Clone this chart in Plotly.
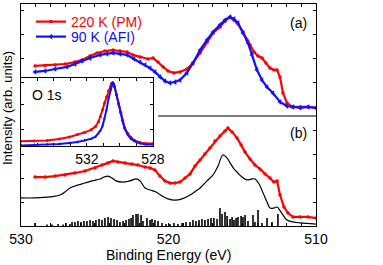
import plotly.graph_objects as go

# ---------------- data (binding energy in eV, intensity in arb. units) ----------------
# (a) 220 K (PM)
a_red_be = [529.05, 528.37, 527.69, 527.02, 526.34, 525.86, 525.32, 524.85, 524.31, 523.76,
            523.29, 522.81, 522.41, 521.93, 521.39, 521.05, 520.71, 520.37, 520.03, 519.63,
            519.22, 518.75, 518.34, 517.86, 517.39, 516.98, 516.51, 516.17, 515.83, 515.56,
            515.29, 514.95, 514.68, 514.47, 514.20, 513.93, 513.66, 513.39, 513.12, 512.85,
            512.64, 512.44, 512.24, 511.97, 511.63, 511.08, 510.54, 510.0]
a_red_int = [6.67, 6.69, 6.71, 6.75, 6.83, 6.92, 7.08, 7.21, 7.29, 7.33,
             7.29, 7.25, 7.13, 7.04, 6.96, 7.00, 6.83, 6.63, 6.46, 6.38,
             6.42, 6.54, 6.79, 7.21, 7.67, 8.04, 8.29, 8.54, 8.71, 8.58,
             8.42, 8.08, 7.75, 7.54, 7.25, 7.08, 7.00, 6.79, 6.58, 6.50,
             6.50, 6.21, 5.54, 5.13, 4.96, 4.96, 4.96, 4.92]
# (a) 90 K (AFI)
a_blue_be = [529.05, 528.37, 527.69, 526.88, 526.34, 525.86, 525.32, 524.64, 524.17, 523.76,
             523.29, 522.81, 522.34, 521.93, 521.59, 521.25, 520.92, 520.58, 520.24, 519.90,
             519.56, 519.22, 518.75, 518.34, 517.86, 517.39, 516.98, 516.51, 516.17, 515.83,
             515.56, 515.29, 514.95, 514.61, 514.34, 514.00, 513.66, 513.32, 512.92, 512.44,
             511.97, 511.56, 511.08, 510.54, 510.0]
a_blue_int = [6.42, 6.46, 6.54, 6.63, 6.75, 6.88, 7.00, 7.13, 7.17, 7.21,
              7.17, 7.13, 6.96, 6.83, 6.71, 6.58, 6.42, 6.21, 6.04, 5.96,
              6.00, 6.08, 6.38, 6.79, 7.33, 7.75, 8.08, 8.38, 8.58, 8.71,
              8.63, 8.46, 8.04, 7.63, 7.13, 6.50, 6.08, 5.79, 5.54, 5.17,
              5.00, 4.96, 4.92, 4.96, 4.92]
# (b) 220 K (PM)
b_red_be = [529.05, 528.37, 527.69, 527.02, 526.34, 525.66, 524.98, 524.51, 524.10, 523.76,
            523.42, 522.95, 522.47, 522.07, 521.59, 521.25, 520.92, 520.58, 520.24, 519.90,
            519.56, 519.22, 518.88, 518.54, 518.20, 517.86, 517.53, 517.19, 516.85, 516.51,
            516.17, 515.97, 515.69, 515.36, 515.08, 514.81, 514.47, 514.14, 513.80, 513.46,
            513.12, 512.85, 512.64, 512.44, 512.17, 511.90, 511.56, 511.08, 510.54, 510.0]
b_red_int = [2.04, 2.04, 2.08, 2.13, 2.21, 2.29, 2.42, 2.54, 2.63, 2.71,
             2.67, 2.63, 2.58, 2.54, 2.46, 2.42, 2.33, 2.08, 1.88, 1.79,
             1.79, 1.83, 2.00, 2.17, 2.50, 2.75, 3.00, 3.25, 3.54, 3.75,
             3.96, 4.08, 3.92, 3.67, 3.38, 3.08, 2.79, 2.54, 2.38, 2.17,
             2.00, 1.83, 1.88, 1.29, 0.79, 0.54, 0.38, 0.38, 0.38, 0.33]
# (b) calculation (black line)
calc_be = [530.0, 529.05, 528.03, 527.36, 527.02, 526.68, 526.14, 525.66, 525.19, 524.64,
           524.37, 524.10, 523.83, 523.56, 523.15, 522.61, 522.20, 521.93, 521.59, 521.25,
           520.85, 520.44, 520.03, 519.56, 519.08, 518.54, 518.14, 517.86, 517.39, 516.98,
           516.64, 516.31, 516.03, 515.83, 515.56, 515.36, 515.02, 514.68, 514.34, 514.14,
           513.86, 513.59, 513.32, 513.12, 512.85, 512.64, 512.37, 511.97, 511.56, 511.08, 510.0]
calc_int = [1.17, 1.17, 1.21, 1.29, 1.42, 1.58, 1.71, 1.79, 1.88, 1.96,
            2.04, 2.08, 2.00, 1.88, 1.83, 1.88, 1.96, 1.88, 1.58, 1.50,
            1.42, 1.25, 1.13, 1.08, 1.13, 1.29, 1.46, 1.58, 1.88, 2.13,
            2.50, 2.96, 2.83, 2.63, 2.38, 2.25, 2.04, 1.92, 1.96, 1.96,
            1.75, 1.38, 1.00, 0.75, 0.75, 0.79, 0.58, 0.25, 0.17, 0.13, 0.08]
# (b) stick spectrum
stick_be = [529.05, 528.24, 527.90, 527.49, 527.15, 526.95, 526.68, 526.54, 526.34, 526.14,
            525.93, 525.73, 525.53, 525.32, 525.12, 524.92, 524.71, 524.51, 524.31, 524.10,
            523.90, 523.69, 523.49, 523.29, 523.08, 522.88, 522.68, 522.54, 522.41, 522.20,
            522.07, 521.86, 521.73, 521.46, 521.25, 521.12, 520.92, 520.71, 520.44, 520.17,
            519.90, 519.63, 519.36, 519.08, 518.81, 518.54, 518.34, 518.14, 517.93, 517.73,
            517.53, 517.32, 517.12, 516.92, 516.71, 516.51, 516.37, 516.17, 516.03, 515.83,
            515.69, 515.56, 515.42, 515.29, 515.08, 514.95, 514.81, 514.61, 514.27, 514.14,
            513.93, 513.66, 513.32, 512.98, 512.58]
stick_int = [0.13, 0.06, 0.06, 0.08, 0.06, 0.13, 0.08, 0.17, 0.17, 0.21,
             0.17, 0.21, 0.21, 0.25, 0.21, 0.25, 0.29, 0.25, 0.33, 0.38,
             0.33, 0.29, 0.25, 0.17, 0.21, 0.25, 0.29, 0.33, 0.46, 0.50,
             0.50, 0.46, 0.21, 0.33, 0.25, 0.29, 0.25, 0.21, 0.13, 0.08,
             0.08, 0.13, 0.08, 0.13, 0.17, 0.17, 0.25, 0.21, 0.25, 0.29,
             0.25, 0.29, 0.33, 0.33, 0.29, 0.75, 0.50, 0.58, 0.42, 0.29,
             0.38, 0.25, 0.33, 0.38, 0.42, 0.38, 0.46, 0.21, 0.46, 0.17,
             0.67, 0.13, 0.33, 0.17, 0.50]
# inset: O 1s
o1s_be = [536.0, 535.21, 534.41, 533.68, 533.07, 532.58, 532.15, 531.73, 531.48, 531.30,
          531.18, 531.05, 530.93, 530.81, 530.69, 530.56, 530.50, 530.44, 530.38, 530.32,
          530.20, 530.08, 529.95, 529.83, 529.71, 529.53, 529.34, 529.10, 528.79, 528.43, 528.0]
o1s_red = [0.06, 0.066, 0.074, 0.096, 0.125, 0.16, 0.19, 0.235, 0.28, 0.35,
           0.43, 0.53, 0.63, 0.72, 0.81, 0.88, 0.92, 0.93, 0.91, 0.87,
           0.75, 0.62, 0.49, 0.37, 0.26, 0.18, 0.12, 0.074, 0.044, 0.03, 0.03]
o1s_blue = [0.0, 0.007, 0.015, 0.022, 0.037, 0.05, 0.074, 0.10, 0.13, 0.18,
            0.22, 0.29, 0.40, 0.53, 0.69, 0.84, 0.90, 0.93, 0.91, 0.87,
            0.74, 0.60, 0.47, 0.35, 0.25, 0.16, 0.10, 0.06, 0.03, 0.015, 0.015]

main_xticks = list(range(510, 531))
main_xlabels = {510: "510", 520: "520", 530: "530"}
main_yticks = [1, 2, 3, 4, 6, 7, 8, 9]
inset_xticks = list(range(528, 537))
inset_xlabels = {528: "528", 532: "532"}
inset_yticks = [0.235, 0.6, 0.93]

RED = "#ff0000"
BLUE = "#1010ff"
FONT = "Liberation Sans, Arial, sans-serif"

fig = go.Figure()

# stick spectrum
sx, sy = [], []
for e, h in zip(stick_be, stick_int):
    sx += [e, e, None]
    sy += [0, h, None]
fig.add_trace(go.Scatter(x=sx, y=sy, mode="lines", line=dict(color="black", width=1.6),
                         showlegend=False, hoverinfo="skip"))
fig.add_trace(go.Scatter(x=calc_be, y=calc_int, mode="lines",
                         line=dict(color="black", width=1.2, shape="spline"), showlegend=False))
fig.add_trace(go.Scatter(x=b_red_be, y=b_red_int, mode="lines+markers",
                         line=dict(color=RED, width=2.2), marker=dict(color=RED, size=3.5, symbol="circle"),
                         showlegend=False))
fig.add_trace(go.Scatter(x=a_red_be, y=a_red_int, mode="lines+markers", legend="legend",
                         name='<span style="color:#ff0000">220 K (PM)</span>',
                         line=dict(color=RED, width=2.2), marker=dict(color=RED, size=3.5, symbol="circle")))
fig.add_trace(go.Scatter(x=a_blue_be, y=a_blue_int, mode="lines+markers", legend="legend2",
                         name='<span style="color:#1010ff">90 K (AFI)</span>',
                         line=dict(color=BLUE, width=2.2), marker=dict(color=BLUE, size=5, symbol="triangle-left")))

# inset
fig.add_trace(go.Scatter(x=o1s_be, y=o1s_red, mode="lines+markers", xaxis="x2", yaxis="y2",
                         line=dict(color=RED, width=2), marker=dict(color=RED, size=3),
                         showlegend=False))
fig.add_trace(go.Scatter(x=o1s_be, y=o1s_blue, mode="lines+markers", xaxis="x2", yaxis="y2",
                         line=dict(color=BLUE, width=2), marker=dict(color=BLUE, size=3, symbol="triangle-left"),
                         showlegend=False))

axis_common = dict(showline=True, linecolor="black", linewidth=1, mirror="allticks",
                   ticks="inside", ticklen=3, tickcolor="black", showgrid=False, zeroline=False)

legend_common = dict(xanchor="left", yanchor="top", bgcolor="rgba(0,0,0,0)",
                     font=dict(size=14), itemwidth=30, borderwidth=0)

fig.update_layout(
    width=383, height=265,
    margin=dict(l=21, r=67, t=4, b=39),
    paper_bgcolor="white", plot_bgcolor="white",
    font=dict(family=FONT, size=14, color="black"),
    xaxis=dict(range=[530, 510], tickmode="array", tickvals=main_xticks,
               ticktext=[main_xlabels.get(v, "") for v in main_xticks],
               tickfont=dict(size=14), **axis_common),
    yaxis=dict(range=[0, 9.25], tickmode="array", tickvals=main_yticks, showticklabels=False,
               **axis_common),
    xaxis2=dict(domain=[0.0, 0.447], anchor="y2", range=[536, 528], tickmode="array",
                tickvals=inset_xticks, ticktext=[inset_xlabels.get(v, "") for v in inset_xticks],
                tickfont=dict(size=14), **axis_common),
    yaxis2=dict(domain=[0.36, 0.667], anchor="x2", range=[-0.01, 1.0], tickmode="array",
                tickvals=inset_yticks, showticklabels=False, **axis_common),
    legend=dict(x=(31 - 21) / 295, y=(226 - 6) / 222, **legend_common),
    legend2=dict(x=(31 - 21) / 295, y=(226 - 21) / 222, **legend_common),
    showlegend=True,
)

# separator between panels
fig.add_shape(type="line", xref="x", yref="y", x0=520.71, x1=510, y0=4.583, y1=4.583,
              line=dict(color="black", width=1))

ann = dict(xref="paper", yref="paper", showarrow=False, xanchor="center", yanchor="middle")
fig.add_annotation(text="(a)", x=(298 - 21) / 295, y=(226 - 23) / 222, font=dict(size=14), **ann)
fig.add_annotation(text="(b)", x=(298 - 21) / 295, y=(226 - 133) / 222, font=dict(size=14), **ann)
fig.add_annotation(text="O 1s", x=(47 - 21) / 295, y=(226 - 95) / 222, font=dict(size=14), **ann)
fig.add_annotation(text="Intensity (arb. units)", x=(7 - 21) / 295, y=(226 - 108) / 222,
                   textangle=-90, font=dict(size=13), **ann)
fig.add_annotation(text="Binding Energy (eV)", x=0.5, y=(226 - 255) / 222, font=dict(size=14), **ann)

fig.write_html("out.html", config={"displayModeBar": False},
               post_script="document.body.style.margin='0';")
